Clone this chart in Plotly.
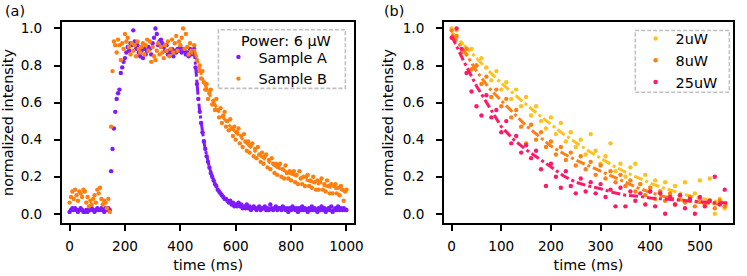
import plotly.graph_objects as go

# ---------------- Panel (a) data: sampled every 5 ms from 0 to 1000 ----------------
time_a = list(range(0, 1001, 5))

sample_a = [
    0.01, 0.02, 0.03, 0.02, 0.03, 0.02, 0.01, 0.02, 0.03, 0.02,
    0.01, 0.01, 0.02, 0.01, 0.02, 0.02, 0.03, 0.02, 0.01, 0.02,
    0.03, 0.02, 0.02, 0.03, 0.02, 0.01, 0.03, 0.02, 0.03, 0.02,
    0.23, 0.35, 0.46, 0.55, 0.62, 0.65, 0.67, 0.76, 0.79, 0.82, 0.84, 0.87,
    0.90, 0.88, 0.92, 0.91, 0.99, 0.93, 0.89, 0.91, 0.87, 0.85,
    0.88, 0.84, 0.89, 0.86, 0.88, 0.90, 0.89, 0.86, 0.92, 0.95,
    1.00, 0.97, 0.91, 0.93, 0.94, 0.92, 0.90, 0.88, 0.91, 0.86,
    0.88, 0.87, 0.89, 0.85, 0.88, 0.87, 0.89, 0.88, 0.90, 0.87,
    0.89, 0.88, 0.86, 0.87, 0.85, 0.89, 0.86, 0.88,
    0.89, 0.79, 0.70, 0.62, 0.55, 0.49, 0.44, 0.39, 0.35, 0.31,
    0.28, 0.25, 0.22, 0.20, 0.18, 0.16, 0.15, 0.13, 0.12, 0.11,
    0.10, 0.09, 0.08, 0.08, 0.07, 0.06, 0.07, 0.05, 0.06, 0.04,
    0.05, 0.04, 0.06, 0.04, 0.05, 0.03, 0.04, 0.03, 0.05, 0.03,
    0.04, 0.02, 0.03, 0.04, 0.03, 0.02, 0.03, 0.04, 0.02, 0.03,
    0.03, 0.04, 0.02, 0.03, 0.02, 0.05, 0.03, 0.02, 0.03, 0.04,
    0.02, 0.03, 0.03, 0.02, 0.04, 0.03, 0.02, 0.03, 0.01, 0.03,
    0.02, 0.04, 0.03, 0.02, 0.03, 0.01, 0.03, 0.02, 0.04, 0.02,
    0.03, 0.02, 0.01, 0.03, 0.02, 0.04, 0.02, 0.03, 0.02, 0.01,
    0.03, 0.02, 0.04, 0.02, 0.03, 0.01, 0.02, 0.03, 0.02, 0.04,
    0.01, 0.02, 0.03, 0.02, 0.04, 0.02, 0.03, 0.02, 0.03, 0.02,
    0.02,
]

sample_b = [
    0.06, 0.09, 0.12, 0.08, 0.13, 0.10, 0.07, 0.12, 0.11, 0.09,
    0.13, 0.12, 0.06, 0.09, 0.04, 0.07, 0.05, 0.08, 0.10, 0.06,
    0.13, 0.11, 0.14, 0.08, 0.05, 0.07, 0.06, 0.03, 0.08, 0.01,
    0.47, 0.77, 0.93, 0.91, 0.87, 0.94, 0.91, 0.83, 0.92, 0.89, 0.97, 0.93,
    0.95, 0.90, 0.86, 0.92, 0.88, 0.91, 0.85, 0.93, 0.89, 0.87,
    0.90, 0.92, 0.86, 0.91, 0.94, 0.88, 0.93, 0.82, 0.90, 0.85,
    0.83, 0.88, 0.92, 0.86, 0.90, 0.87, 0.84, 0.91, 0.88, 0.93,
    0.85, 0.89, 0.94, 0.87, 0.92, 0.96, 0.88, 0.93, 0.91, 0.95,
    1.00, 0.89, 0.97, 0.90, 0.86, 0.92, 0.88, 0.87,
    0.91, 0.85, 0.83, 0.77, 0.80, 0.73, 0.77, 0.71, 0.67, 0.70,
    0.62, 0.65, 0.67, 0.59, 0.61, 0.56, 0.62, 0.56, 0.52, 0.57,
    0.49, 0.53, 0.55, 0.47, 0.50, 0.45, 0.51, 0.46, 0.42, 0.47,
    0.40, 0.44, 0.46, 0.38, 0.42, 0.36, 0.43, 0.39, 0.34, 0.39,
    0.33, 0.37, 0.38, 0.31, 0.35, 0.30, 0.36, 0.32, 0.28, 0.33,
    0.27, 0.31, 0.32, 0.25, 0.29, 0.24, 0.30, 0.27, 0.22, 0.27,
    0.21, 0.26, 0.27, 0.20, 0.24, 0.19, 0.26, 0.22, 0.19, 0.23,
    0.18, 0.22, 0.23, 0.17, 0.21, 0.16, 0.23, 0.19, 0.16, 0.20,
    0.15, 0.20, 0.21, 0.15, 0.18, 0.14, 0.20, 0.17, 0.13, 0.18,
    0.13, 0.17, 0.19, 0.13, 0.16, 0.12, 0.18, 0.15, 0.11, 0.16,
    0.11, 0.15, 0.16, 0.11, 0.14, 0.10, 0.15, 0.13, 0.07, 0.12,
    0.13,
]

fit_a_time = [450, 455, 460, 465, 470, 475, 480, 485, 490, 495, 500, 505, 510, 515,
              520, 525, 530, 535, 540, 545, 550, 555, 560, 565, 570, 575, 580, 585,
              590, 595, 600, 650, 700, 800, 900, 1000]
fit_a_vals = [0.885, 0.786, 0.699, 0.621, 0.553, 0.492, 0.439, 0.391, 0.349, 0.312,
              0.279, 0.250, 0.224, 0.201, 0.181, 0.163, 0.147, 0.133, 0.121, 0.110,
              0.100, 0.091, 0.084, 0.077, 0.071, 0.066, 0.061, 0.057, 0.053, 0.050,
              0.047, 0.032, 0.027, 0.025, 0.025, 0.025]

fit_b_time = [450, 460, 470, 480, 490, 500, 510, 520, 530, 540, 550, 575, 600, 625,
              650, 675, 700, 750, 800, 850, 900, 950, 1000]
fit_b_vals = [0.89, 0.83, 0.78, 0.73, 0.69, 0.66, 0.63, 0.60, 0.575, 0.55, 0.53, 0.48,
              0.44, 0.40, 0.365, 0.33, 0.30, 0.25, 0.215, 0.185, 0.16, 0.14, 0.125]

# ---------------- Panel (b) data: sampled every 10 ms from 0 to 550 ----------------
time_b = list(range(0, 551, 10))

p2uw = [
    1.00, 0.99, 0.92, 0.86, 0.89, 0.80, 0.84, 0.79, 0.72, 0.77,
    0.67, 0.71, 0.62, 0.67, 0.58, 0.63, 0.53, 0.58, 0.50, 0.46,
    0.52, 0.43, 0.49, 0.39, 0.44, 0.36, 0.40, 0.32, 0.43, 0.34,
    0.27, 0.31, 0.38, 0.23, 0.27, 0.20, 0.25, 0.27, 0.16, 0.21,
    0.14, 0.18, 0.12, 0.17, 0.10, 0.15, 0.09, 0.17, 0.07, 0.11,
    0.18, 0.05, 0.19, 0.00, 0.08, 0.03,
]

p8uw = [
    0.99, 0.96, 0.87, 0.89, 0.78, 0.80, 0.70, 0.74, 0.63, 0.67,
    0.58, 0.62, 0.52, 0.56, 0.47, 0.38, 0.48, 0.40, 0.44, 0.36,
    0.39, 0.32, 0.36, 0.29, 0.33, 0.26, 0.31, 0.24, 0.28, 0.21,
    0.26, 0.19, 0.23, 0.17, 0.21, 0.15, 0.18, 0.12, 0.16, 0.10,
    0.14, 0.08, 0.12, 0.07, 0.11, 0.05, 0.10, 0.06, 0.09, 0.04,
    0.08, 0.05, 0.07, 0.03, 0.07, 0.04,
]

p25uw = [
    0.95, 1.00, 0.89, 0.76, 0.66, 0.58, 0.53, 0.64, 0.52, 0.56,
    0.44, 0.50, 0.38, 0.42, 0.33, 0.37, 0.30, 0.34, 0.24, 0.15,
    0.27, 0.20, 0.14, 0.23, 0.15, 0.11, 0.19, 0.12, 0.17, 0.11,
    0.16, 0.09, 0.13, 0.04, 0.14, 0.04, 0.12, 0.07, 0.11, 0.05,
    0.12, 0.04, 0.11, 0.00, 0.09, 0.05, 0.10, 0.03, 0.08, 0.00,
    0.09, 0.04, 0.07, 0.20, 0.05, 0.13,
]

fit_time_b = [0, 25, 50, 75, 100, 125, 150, 175, 200, 225, 250, 275, 300, 325,
              350, 375, 400, 425, 450, 475, 500, 525, 555]
fit_2uw = [0.98, 0.91, 0.835, 0.77, 0.705, 0.645, 0.59, 0.535, 0.48, 0.43, 0.385, 0.34,
           0.30, 0.26, 0.225, 0.195, 0.165, 0.14, 0.12, 0.10, 0.085, 0.07, 0.06]
fit_8uw = [0.97, 0.88, 0.77, 0.68, 0.61, 0.545, 0.475, 0.42, 0.365, 0.325, 0.29, 0.26,
           0.23, 0.20, 0.17, 0.14, 0.115, 0.095, 0.08, 0.07, 0.06, 0.055, 0.05]
fit_25uw = [0.96, 0.82, 0.69, 0.58, 0.47, 0.40, 0.345, 0.30, 0.25, 0.205, 0.17, 0.15,
            0.135, 0.115, 0.10, 0.095, 0.085, 0.08, 0.075, 0.07, 0.065, 0.06, 0.058]

assert len(sample_a) == len(time_a) and len(sample_b) == len(time_a)
assert len(p2uw) == len(time_b) and len(p8uw) == len(time_b) and len(p25uw) == len(time_b)

# ---------------- styles ----------------
C_A = "#7f19ff"
C_B = "#ff7f0e"
C_2 = "#ffc21c"
C_8 = "#ff7f12"
C_25 = "#ff1a66"
FONT = "DejaVu Sans"

fig = go.Figure()

def pts(x, y, color, name, xa, ya, legend):
    fig.add_trace(go.Scatter(x=x, y=y, mode="markers", name=name,
                             marker=dict(color=color, size=4.4, line=dict(width=0)),
                             xaxis=xa, yaxis=ya, legend=legend))

def fitline(x, y, color, xa, ya, legend):
    fig.add_trace(go.Scatter(x=x, y=y, mode="lines", showlegend=False,
                             line=dict(color=color, width=3, dash="dashdot"),
                             xaxis=xa, yaxis=ya, legend=legend))

pts(time_a, sample_a, C_A, "Sample A", "x", "y", "legend")
pts(time_a, sample_b, C_B, "Sample B", "x", "y", "legend")
fitline(fit_a_time, fit_a_vals, C_A, "x", "y", "legend")
fitline(fit_b_time, fit_b_vals, C_B, "x", "y", "legend")

pts(time_b, p2uw, C_2, "2uW", "x2", "y2", "legend2")
fitline(fit_time_b, fit_2uw, C_2, "x2", "y2", "legend2")
pts(time_b, p8uw, C_8, "8uW", "x2", "y2", "legend2")
fitline(fit_time_b, fit_8uw, C_8, "x2", "y2", "legend2")
pts(time_b, p25uw, C_25, "25uW", "x2", "y2", "legend2")
fitline(fit_time_b, fit_25uw, C_25, "x2", "y2", "legend2")

W, H = 747, 276
ML, MR, MT, MB = 60, 5, 22, 48
PW = W - ML - MR
PH = H - MT - MB

def px2dom(a, b):
    return [(a - ML) / PW, (b - ML) / PW]

def py(v):
    return 1 - (v - MT) / PH

def pxx(v):
    return (v - ML) / PW

axis_common = dict(showline=True, linecolor="black", linewidth=2, mirror=True,
                   ticks="outside", ticklen=6, tickwidth=1.8, tickcolor="black",
                   showgrid=False, zeroline=False,
                   tickfont=dict(family=FONT, size=13.6, color="black"))

title_font = dict(family=FONT, size=14.4, color="black")

yaxis_common = dict(axis_common, range=[-0.05, 1.035], tickvals=[0, 0.2, 0.4, 0.6, 0.8, 1.0],
                    tickformat=".1f", ticklabelstandoff=9,
                    title=dict(text="normalized intensity", font=title_font, standoff=6))

fig.update_layout(
    width=W, height=H,
    margin=dict(l=ML, r=MR, t=MT, b=MB),
    paper_bgcolor="white", plot_bgcolor="white",
    font=dict(family=FONT, size=14.4, color="black"),
    xaxis=dict(axis_common, domain=px2dom(60, 357), range=[-27.4, 1028], dtick=200, tick0=0,
               ticklabelstandoff=4,
               title=dict(text="time (ms)", font=title_font, standoff=7), anchor="y"),
    yaxis=dict(yaxis_common, anchor="x"),
    xaxis2=dict(axis_common, domain=px2dom(448.3, 742), range=[-15.3, 566.7], dtick=100, tick0=0,
                ticklabelstandoff=4,
                title=dict(text="time (ms)", font=title_font, standoff=7), anchor="y2"),
    yaxis2=dict(yaxis_common, anchor="x2"),
    legend=dict(x=pxx(219), y=py(41.5), xanchor="left", yanchor="top",
                bgcolor="rgba(0,0,0,0)", borderwidth=0, font=title_font,
                itemwidth=30, tracegroupgap=0),
    legend2=dict(x=pxx(643), y=py(22.7), xanchor="left", yanchor="top",
                 bgcolor="rgba(0,0,0,0)", borderwidth=0, font=title_font,
                 itemwidth=30, tracegroupgap=0),
    showlegend=True,
)

# dashed legend frames
fig.add_shape(type="rect", xref="paper", yref="paper",
              x0=pxx(219), x1=pxx(348), y0=py(90), y1=py(30),
              line=dict(color="#c0c0c0", width=1.6, dash="4px,2px"), fillcolor="rgba(0,0,0,0)")
fig.add_shape(type="rect", xref="paper", yref="paper",
              x0=pxx(642.7), x1=pxx(738.3), y0=py(94), y1=py(30.7),
              line=dict(color="#c0c0c0", width=1.6, dash="4px,2px"), fillcolor="rgba(0,0,0,0)")

# legend title of panel (a)
fig.add_annotation(text="Power: 6 μW", xref="paper", yref="paper",
                   x=pxx(335), y=py(41.7), xanchor="right", yanchor="middle", showarrow=False,
                   font=title_font)

# panel labels
fig.add_annotation(text="(a)", xref="paper", yref="paper", x=pxx(0), y=py(0),
                   xanchor="left", yanchor="top", showarrow=False, font=title_font)
fig.add_annotation(text="(b)", xref="paper", yref="paper", x=pxx(385.5), y=py(0),
                   xanchor="left", yanchor="top", showarrow=False, font=title_font)

fig.write_html("out.html", config={"displayModeBar": False},
               post_script="document.body.style.margin='0px';")
